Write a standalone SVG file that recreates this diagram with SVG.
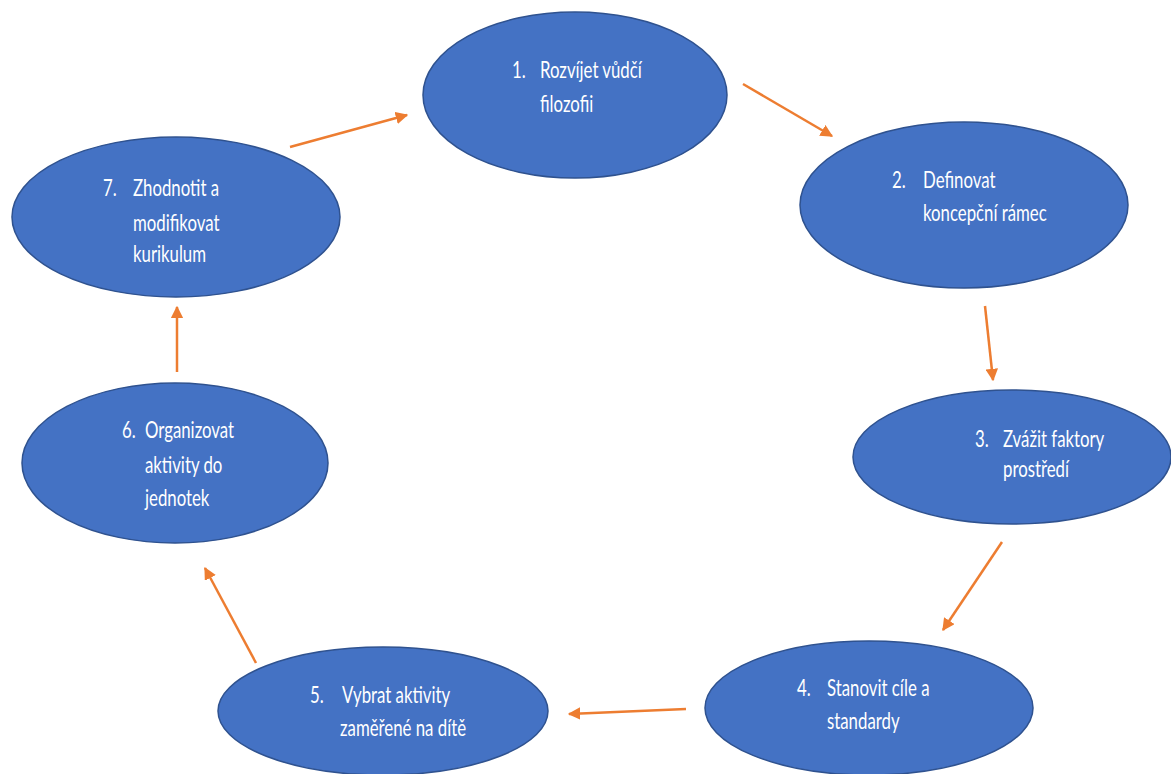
<svg xmlns="http://www.w3.org/2000/svg" width="1171" height="774" viewBox="0 0 1171 774">
<defs>
<style>
.node ellipse{fill:#4472C4;stroke:#2F528F;stroke-width:1.5}
.node text{font-family:Lato,"Liberation Sans",sans-serif;font-size:23px;fill:#ffffff}
.conn line{stroke:#ED7D31;stroke-width:2.5;marker-end:url(#ah)}
</style>
<marker id="ah" viewBox="0 0 10 10" refX="9" refY="5" markerWidth="5" markerHeight="5" orient="auto" markerUnits="strokeWidth">
<path d="M0,0 L10,5 L0,10 z" fill="#ED7D31"/>
</marker>
</defs>
<rect width="1171" height="774" fill="#ffffff"/>
<g id="connectors" class="conn">
<line x1="743" y1="84" x2="832" y2="136"/>
<line x1="985" y1="306" x2="993" y2="380"/>
<line x1="1002" y1="542" x2="943" y2="630"/>
<line x1="686" y1="709" x2="569" y2="714"/>
<line x1="256" y1="663" x2="205" y2="568"/>
<line x1="177" y1="372" x2="177" y2="307"/>
<line x1="290" y1="147" x2="407" y2="115"/>
</g>
<g id="node1" class="node">
<ellipse cx="575" cy="95" rx="152" ry="83"/>
<text transform="matrix(0.73 0 0 1 512 78)">1.</text><text transform="matrix(0.73 0 0 1 540 78)">Rozvíjet vůdčí</text>
<text transform="matrix(0.73 0 0 1 540 112)">filozofii</text>
</g>
<g id="node2" class="node">
<ellipse cx="964" cy="205" rx="164" ry="83"/>
<text transform="matrix(0.73 0 0 1 892 188)">2.</text><text transform="matrix(0.73 0 0 1 923 188)">Definovat</text>
<text transform="matrix(0.73 0 0 1 923 221)">koncepční rámec</text>
</g>
<g id="node3" class="node">
<ellipse cx="1012" cy="457" rx="159" ry="67"/>
<text transform="matrix(0.73 0 0 1 975 447)">3.</text><text transform="matrix(0.73 0 0 1 1003 447)">Zvážit faktory</text>
<text transform="matrix(0.73 0 0 1 1003 477)">prostředí</text>
</g>
<g id="node4" class="node">
<ellipse cx="869" cy="708" rx="164" ry="67"/>
<text transform="matrix(0.73 0 0 1 797 696)">4.</text><text transform="matrix(0.73 0 0 1 827 696)">Stanovit cíle a</text>
<text transform="matrix(0.73 0 0 1 827 729)">standardy</text>
</g>
<g id="node5" class="node">
<ellipse cx="383" cy="711" rx="165" ry="64"/>
<text transform="matrix(0.73 0 0 1 310 703)">5.</text><text transform="matrix(0.73 0 0 1 342 703)">Vybrat aktivity</text>
<text transform="matrix(0.73 0 0 1 340 736)">zaměřené na dítě</text>
</g>
<g id="node6" class="node">
<ellipse cx="175" cy="463" rx="153" ry="80"/>
<text transform="matrix(0.73 0 0 1 122 438)">6.</text><text transform="matrix(0.73 0 0 1 145 438)">Organizovat</text>
<text transform="matrix(0.73 0 0 1 145 473)">aktivity do</text>
<text transform="matrix(0.73 0 0 1 145 506)">jednotek</text>
</g>
<g id="node7" class="node">
<ellipse cx="176" cy="217" rx="164" ry="80"/>
<text transform="matrix(0.73 0 0 1 103 196)">7.</text><text transform="matrix(0.73 0 0 1 133 196)">Zhodnotit a</text>
<text transform="matrix(0.73 0 0 1 133 231)">modifikovat</text>
<text transform="matrix(0.73 0 0 1 133 262)">kurikulum</text>
</g>
</svg>
